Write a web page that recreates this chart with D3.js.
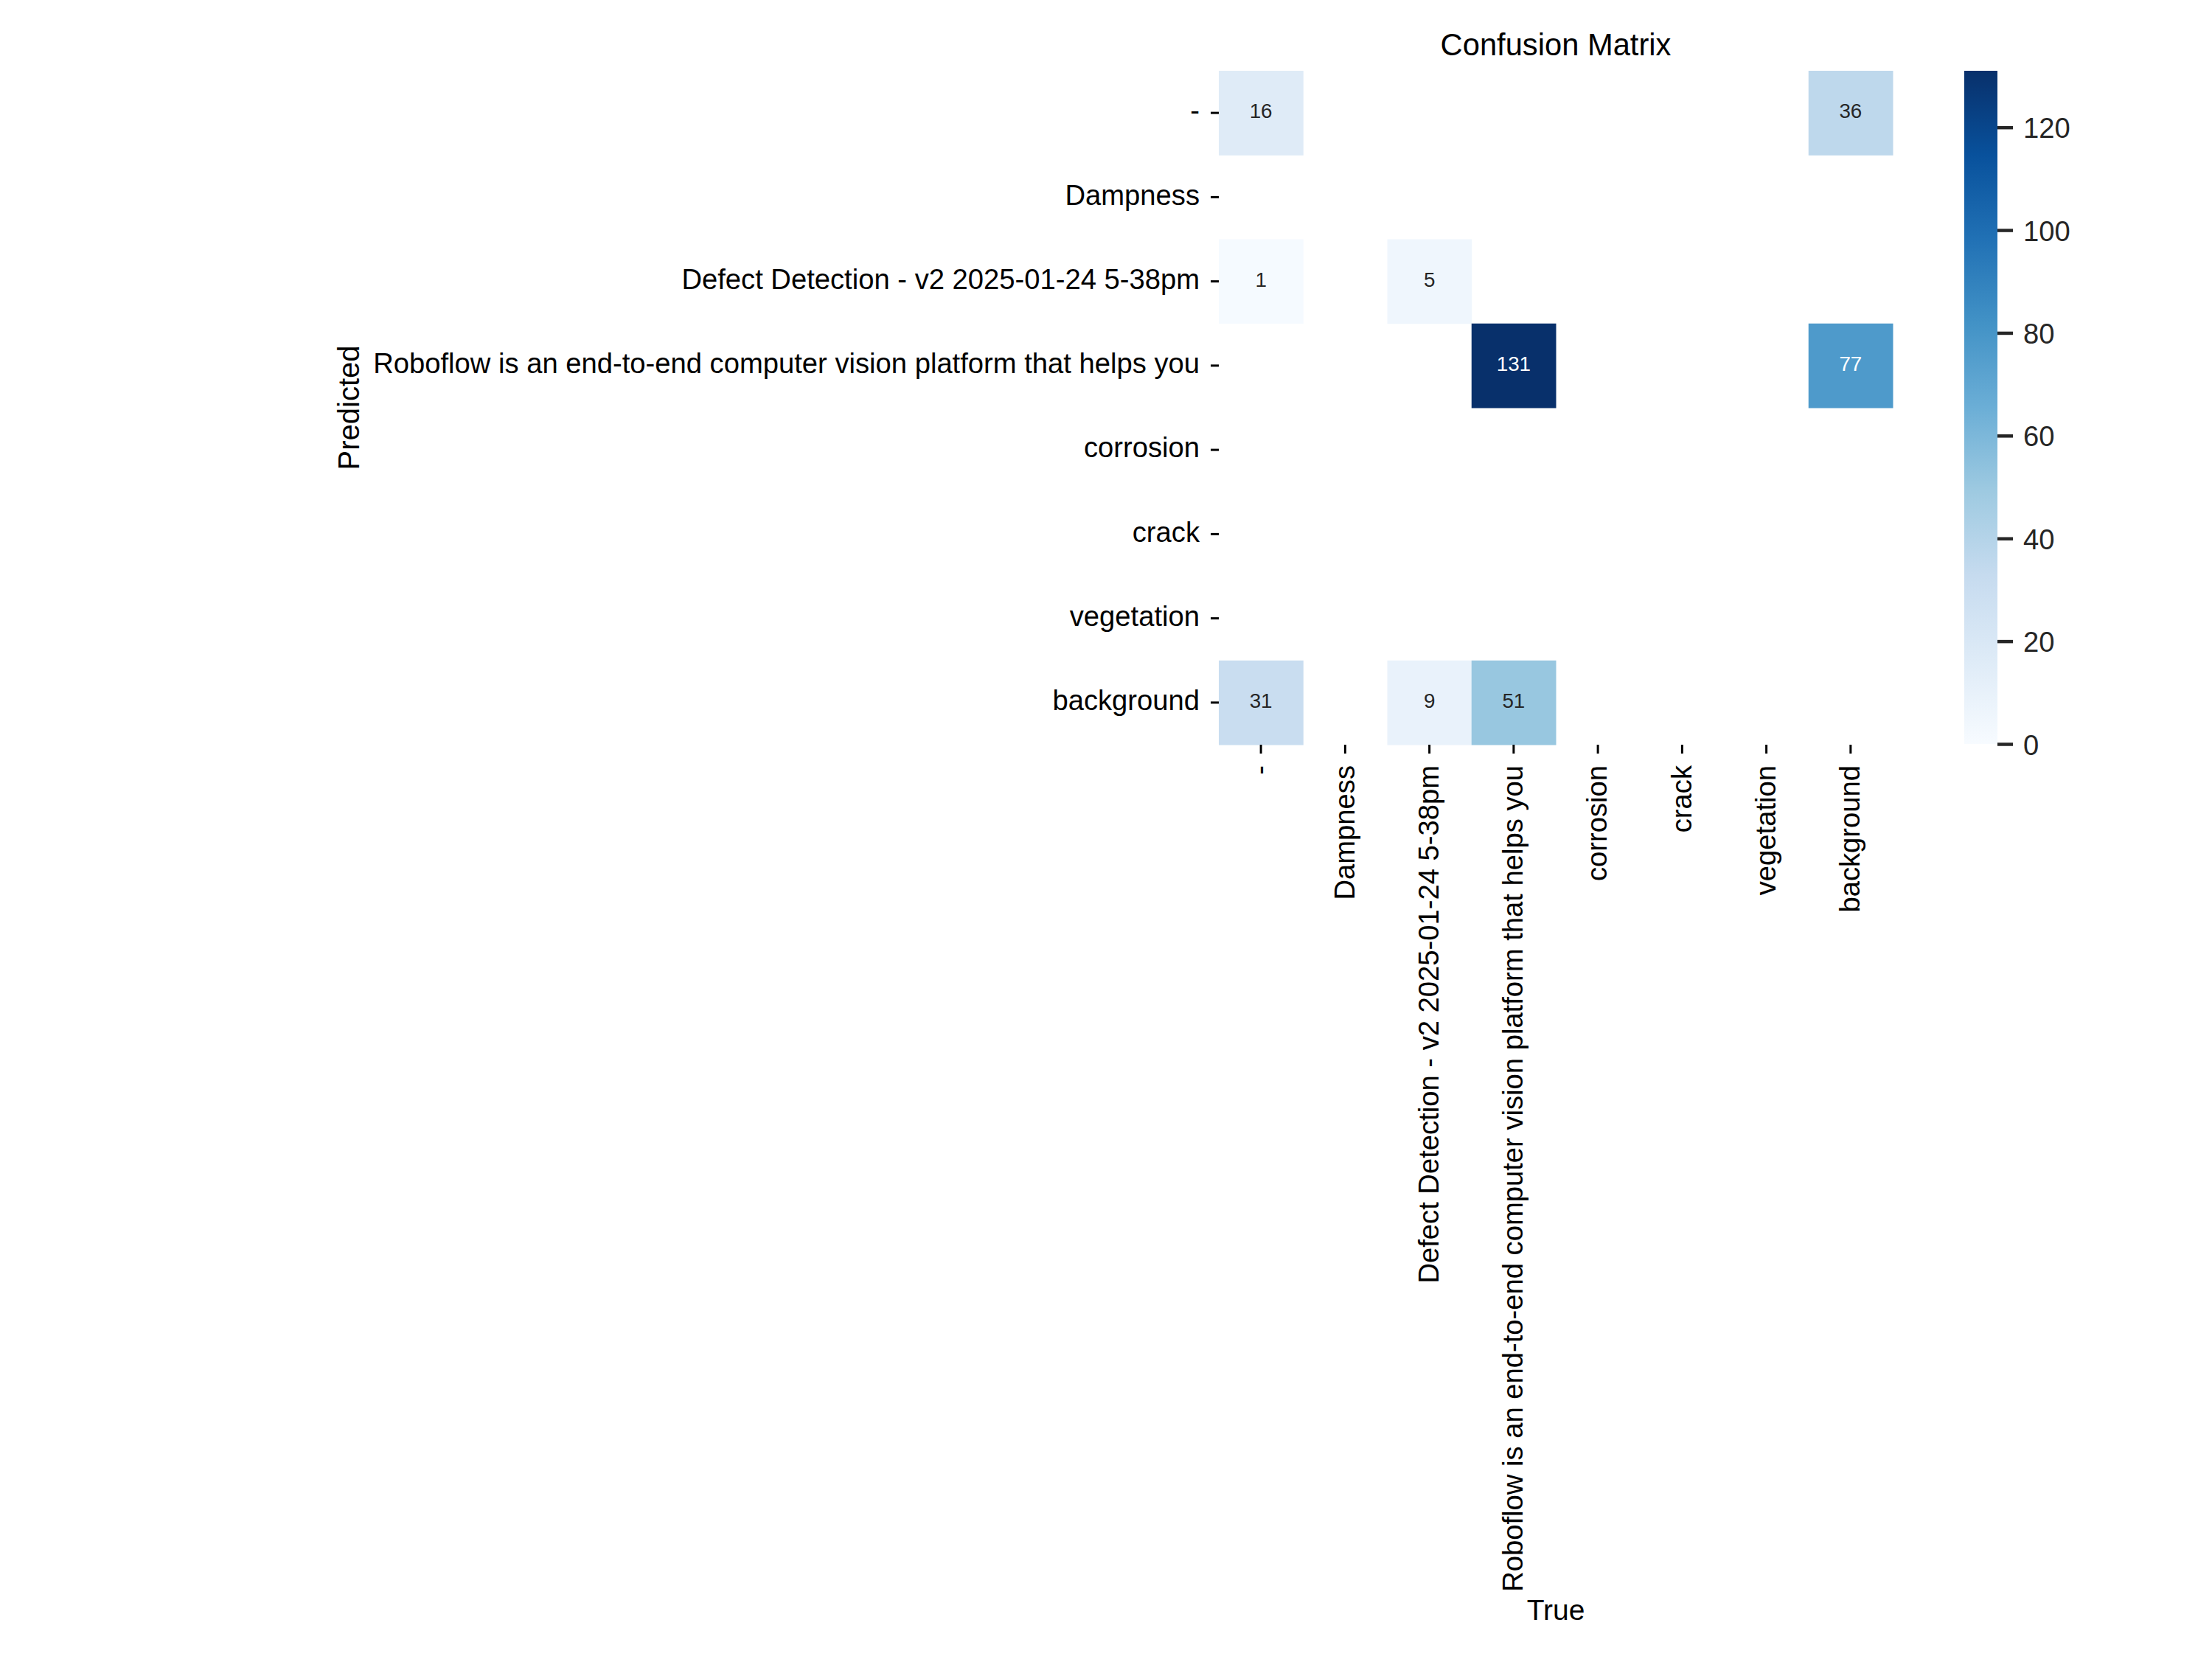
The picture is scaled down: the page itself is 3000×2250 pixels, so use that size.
<!DOCTYPE html>
<html>
<head>
<meta charset="utf-8">
<script src="https://cdn.jsdelivr.net/npm/d3@7"></script>
<style>
  html, body { margin: 0; padding: 0; background: #ffffff; }
  svg { display: block; }
  text { font-family: "Liberation Sans", Arial, sans-serif; }
</style>
</head>
<body>
<svg id="chart" width="3000" height="2250"></svg>
<script>
// ---- Data ----
const categories = [
  "-",
  "Dampness",
  "Defect Detection - v2 2025-01-24 5-38pm",
  "Roboflow is an end-to-end computer vision platform that helps you",
  "corrosion",
  "crack",
  "vegetation",
  "background"
];
// rows = Predicted, columns = True (null = empty cell)
const rowDash       = [16, null, null, null, null, null, null, 36];
const rowDampness   = [null, null, null, null, null, null, null, null];
const rowDefect     = [1, null, 5, null, null, null, null, null];
const rowRoboflow   = [null, null, null, 131, null, null, null, 77];
const rowCorrosion  = [null, null, null, null, null, null, null, null];
const rowCrack      = [null, null, null, null, null, null, null, null];
const rowVegetation = [null, null, null, null, null, null, null, null];
const rowBackground = [31, null, 9, 51, null, null, null, null];
const colorbarTicks = [0, 20, 40, 60, 80, 100, 120];
const titleText = "Confusion Matrix";
const xLabelText = "True";
const yLabelText = "Predicted";

(function () {
const matrix = [rowDash, rowDampness, rowDefect, rowRoboflow, rowCorrosion, rowCrack, rowVegetation, rowBackground];
const cells = [];
matrix.forEach((row, i) => row.forEach((v, j) => {
  if (v !== null && v > 0) cells.push({pred: categories[i], tru: categories[j], v});
}));
const vmax = d3.max(cells, d => d.v);

// ---- Colormap (matplotlib Blues, linear over ColorBrewer stops) ----
const bluesStops = ["#f7fbff","#deebf7","#c6dbef","#9ecae1","#6baed6","#4292c6","#2171b5","#08519c","#08306b"];
const cmap = d3.scaleLinear()
  .domain(bluesStops.map((_, i) => i / (bluesStops.length - 1)))
  .range(bluesStops)
  .interpolate(d3.interpolateRgb)
  .clamp(true);
const color = v => cmap(v / vmax);

function luminance(c) {
  const rgb = d3.rgb(c);
  const f = x => { x /= 255; return x <= 0.03928 ? x / 12.92 : Math.pow((x + 0.055) / 1.055, 2.4); };
  return 0.2126 * f(rgb.r) + 0.7152 * f(rgb.g) + 0.0722 * f(rgb.b);
}

// ---- Layout ----
const leftX = 1653, topY = 96, cell = 114.25;
const size = cell * categories.length;
const x = d3.scaleBand().domain(categories).range([leftX, leftX + size]);
const y = d3.scaleBand().domain(categories).range([topY, topY + size]);

const svg = d3.select("#chart");
svg.append("rect").attr("width", 3000).attr("height", 2250).attr("fill", "#ffffff");

// cells
svg.append("g").selectAll("rect").data(cells).join("rect")
  .attr("x", d => x(d.tru))
  .attr("y", d => y(d.pred))
  .attr("width", x.bandwidth() + 0.5)
  .attr("height", y.bandwidth() + 0.5)
  .attr("fill", d => color(d.v));

// annotations
svg.append("g").selectAll("text").data(cells).join("text")
  .attr("x", d => x(d.tru) + x.bandwidth() / 2)
  .attr("y", d => y(d.pred) + y.bandwidth() / 2 + 7)
  .attr("text-anchor", "middle")
  .attr("font-size", 27.8)
  .attr("fill", d => luminance(color(d.v)) > 0.408 ? "#262626" : "#ffffff")
  .text(d => d.v);

// Y axis
const yAxis = svg.append("g").attr("transform", `translate(${leftX},0)`)
  .call(d3.axisLeft(y).tickSize(11).tickPadding(15));
yAxis.select(".domain").remove();
yAxis.selectAll(".tick line").attr("stroke", "#000").attr("stroke-width", 3);
yAxis.selectAll(".tick text")
  .attr("font-size", 38.2).attr("fill", "#000")
  .attr("font-family", "'Liberation Sans', Arial, sans-serif")
  .attr("dy", "0.27em");

// X axis
const xAxis = svg.append("g").attr("transform", `translate(0,${topY + size})`)
  .call(d3.axisBottom(x).tickSize(12).tickPadding(16));
xAxis.select(".domain").remove();
xAxis.selectAll(".tick line").attr("stroke", "#000").attr("stroke-width", 3);
xAxis.selectAll(".tick text")
  .attr("font-size", 38.2).attr("fill", "#000")
  .attr("font-family", "'Liberation Sans', Arial, sans-serif")
  .attr("transform", "rotate(-90)")
  .attr("x", -28).attr("y", 0).attr("dy", "0.32em")
  .attr("text-anchor", "end");

// Title and axis labels
svg.append("text").attr("x", leftX + size / 2).attr("y", 75)
  .attr("text-anchor", "middle").attr("font-size", 41.7).attr("fill", "#000")
  .text(titleText);
svg.append("text").attr("x", leftX + size / 2).attr("y", 2197)
  .attr("text-anchor", "middle").attr("font-size", 39).attr("fill", "#000")
  .text(xLabelText);
svg.append("text").attr("transform", `translate(487,${topY + size / 2}) rotate(-90)`)
  .attr("text-anchor", "middle").attr("font-size", 40).attr("fill", "#000")
  .text(yLabelText);

// Colorbar
const cbX = 2664, cbW = 45;
const cScale = d3.scaleLinear().domain([0, vmax]).range([topY + size - 1, topY]);
const defs = svg.append("defs");
const grad = defs.append("linearGradient").attr("id", "cbgrad")
  .attr("x1", 0).attr("y1", 1).attr("x2", 0).attr("y2", 0);
grad.selectAll("stop").data(bluesStops).join("stop")
  .attr("offset", (d, i) => i / (bluesStops.length - 1))
  .attr("stop-color", d => d);
svg.append("rect").attr("x", cbX).attr("y", topY).attr("width", cbW)
  .attr("height", cScale(0) - topY).attr("fill", "url(#cbgrad)");
const cAxis = svg.append("g").attr("transform", `translate(${cbX + cbW},0)`)
  .call(d3.axisRight(cScale).tickValues(colorbarTicks).tickSize(21).tickPadding(14));
cAxis.select(".domain").remove();
cAxis.selectAll(".tick line").attr("stroke", "#262626").attr("stroke-width", 4.5);
cAxis.selectAll(".tick text")
  .attr("font-size", 38.2).attr("fill", "#262626")
  .attr("font-family", "'Liberation Sans', Arial, sans-serif")
  .attr("dy", "0.37em");
})();
</script>
</body>
</html>
